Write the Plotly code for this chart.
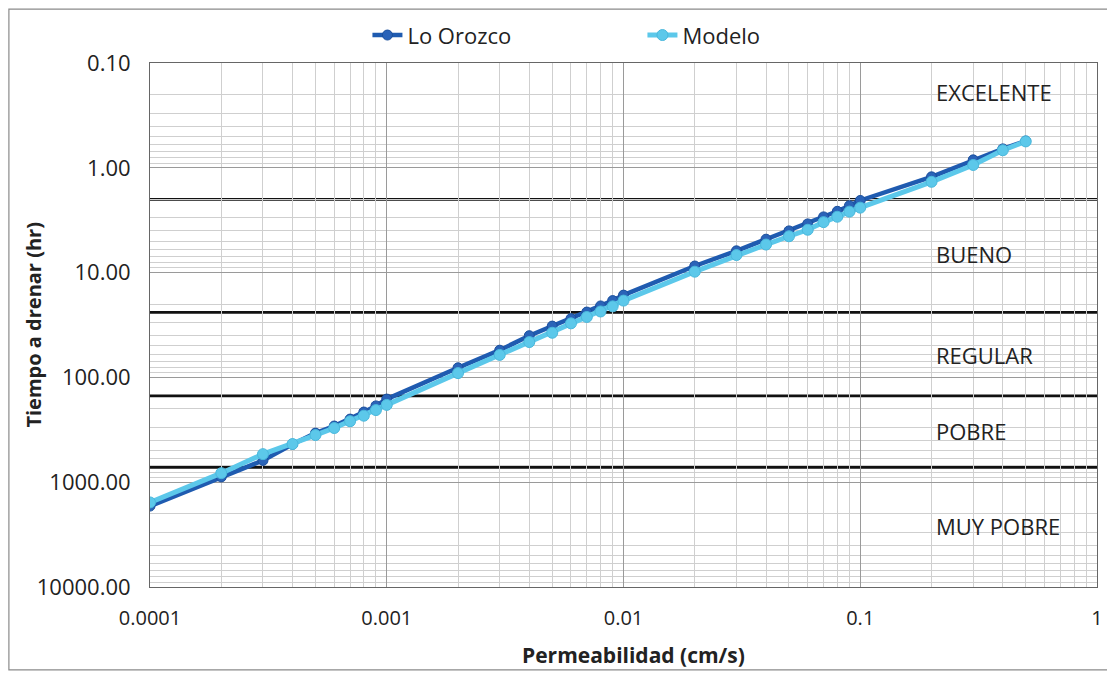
import math
import plotly.graph_objects as go

permeabilidad = [0.0001, 0.0002, 0.0003, 0.0004, 0.0005, 0.0006, 0.0007, 0.0008, 0.0009,
                 0.001, 0.002, 0.003, 0.004, 0.005, 0.006, 0.007, 0.008, 0.009,
                 0.01, 0.02, 0.03, 0.04, 0.05, 0.06, 0.07, 0.08, 0.09,
                 0.1, 0.2, 0.3, 0.4, 0.5]
lo_orozco = [1690, 890, 620, 435, 340, 291, 250, 214, 187,
             161, 81, 55, 40, 32.4, 27.5, 23.8, 20.8, 18.5,
             16.4, 8.65, 6.2, 4.8, 4.0, 3.43, 2.94, 2.6, 2.3,
             2.05, 1.22, 0.84, 0.66, 0.555]
modelo = [1560, 820, 540, 432, 355, 304, 262, 232, 205,
          183, 91, 61, 46, 37.5, 30.5, 26.5, 23.5, 21,
          18.5, 9.8, 6.8, 5.4, 4.5, 3.9, 3.3, 2.93, 2.62,
          2.4, 1.36, 0.94, 0.68, 0.56]

limites = [2, 24, 150, 720]
clases = ["EXCELENTE", "BUENO", "REGULAR", "POBRE", "MUY POBRE"]
clases_y = [0.19, 6.6, 61, 324, 2620]

x_ticks = [0.0001, 0.001, 0.01, 0.1, 1]
x_ticktext = ["0.0001", "0.001", "0.01", "0.1", "1"]
y_ticks = [0.1, 1, 10, 100, 1000, 10000]
y_ticktext = ["0.10", "1.00", "10.00", "100.00", "1000.00", "10000.00"]

x_title = "Permeabilidad (cm/s)"
y_title = "Tiempo a drenar (hr)"

FONT = "Open Sans"

fig = go.Figure()
fig.add_trace(go.Scatter(
    x=permeabilidad, y=lo_orozco, name="Lo Orozco", mode="lines+markers",
    line=dict(color="#1f5bb0", width=4.5),
    marker=dict(symbol="circle", size=10, color="#2a63b8", line=dict(color="#1a4f9c", width=1)),
))
fig.add_trace(go.Scatter(
    x=permeabilidad, y=modelo, name="Modelo", mode="lines+markers",
    line=dict(color="#5cc8ea", width=5),
    marker=dict(symbol="circle", size=11, color="#5cc8ea", line=dict(color="#4ab8dc", width=1)),
))

for v in limites:
    fig.add_shape(type="line", xref="paper", x0=0, x1=1, yref="y", y0=v, y1=v,
                  line=dict(color="#111111", width=2.8), layer="below")

for txt, yv in zip(clases, clases_y):
    fig.add_annotation(text=txt, xref="paper", x=0.828, xanchor="left",
                       yref="y", y=math.log10(yv),
                       yanchor="middle", showarrow=False,
                       font=dict(family=FONT, size=22, color="#222222"))

# axis titles placed like the reference
fig.add_annotation(text="<b>" + y_title + "</b>", xref="paper", yref="paper",
                   x=-0.124, y=0.5, xanchor="center", yanchor="middle", textangle=-90,
                   showarrow=False, font=dict(family=FONT, size=20, color="#222222"))
fig.add_annotation(text="<b>" + x_title + "</b>", xref="paper", yref="paper",
                   x=0.511, y=-0.13, xanchor="center", yanchor="middle",
                   showarrow=False, font=dict(family=FONT, size=21, color="#222222"))

# outer chart border
fig.add_shape(type="rect", xref="paper", yref="paper",
              x0=-0.149, x1=1.0135, y0=-0.158, y1=1.103,
              line=dict(color="#8a8a8a", width=1.2), layer="below")

fig.update_xaxes(
    type="log", range=[-4, 0],
    tickvals=x_ticks, ticktext=x_ticktext,
    tickfont=dict(family=FONT, size=20, color="#222222"),
    ticks="", ticklabelstandoff=13,
    showgrid=True, gridcolor="#9a9a9a", gridwidth=1,
    minor=dict(dtick="D1", showgrid=True, gridcolor="#cfcfcf", gridwidth=1, ticks=""),
    showline=True, linecolor="#666666", linewidth=1, mirror=True,
    zeroline=False,
)
fig.update_yaxes(
    type="log", range=[4, -1],
    tickvals=y_ticks, ticktext=y_ticktext,
    tickfont=dict(family=FONT, size=22, color="#222222"),
    ticks="", ticklabelstandoff=14,
    showgrid=True, gridcolor="#9a9a9a", gridwidth=1,
    minor=dict(dtick="D1", showgrid=True, gridcolor="#cfcfcf", gridwidth=1, ticks=""),
    showline=True, linecolor="#666666", linewidth=1, mirror=True,
    zeroline=False,
)

fig.update_layout(
    width=1107, height=669,
    margin=dict(l=142, r=18, t=55, b=90, autoexpand=False),
    paper_bgcolor="white", plot_bgcolor="white",
    font=dict(family=FONT, color="#222222"),
    showlegend=True,
    legend=dict(orientation="h", x=0.52, xanchor="center", y=1.053, yanchor="middle",
                font=dict(family=FONT, size=22, color="#222222"),
                entrywidth=230, entrywidthmode="pixels", bgcolor="rgba(0,0,0,0)"),
)

fig.write_html("out.html")
